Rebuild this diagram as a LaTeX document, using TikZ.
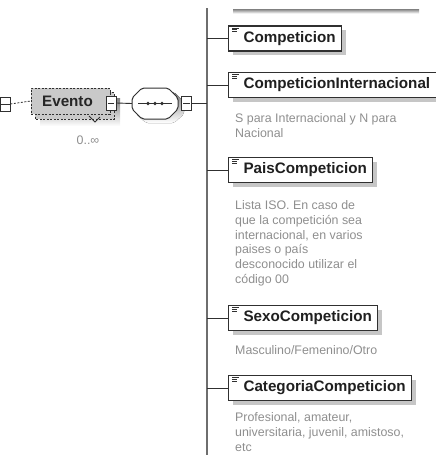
\documentclass[tikz,border=0pt]{standalone}
\usepackage{fontspec}
\setmainfont{Liberation Sans}
\usepackage{tikz}
\usetikzlibrary{calc,shadows}
\definecolor{boxline}{HTML}{303030}
\definecolor{busline}{HTML}{6E6E6E}
\definecolor{shade}{HTML}{C6C6C6}
\definecolor{evfill}{HTML}{C9C9C9}
\definecolor{note}{HTML}{8E8E8E}

\tikzset{
  elem/.style={draw=boxline, line width=1.1pt, fill=white, anchor=west,
    minimum height=25pt, inner ysep=0pt, inner xsep=6pt, text=black!88,
    font=\fontsize{15.2}{18}\selectfont\bfseries,
    drop shadow={shadow xshift=4pt, shadow yshift=-4pt, fill=shade, opacity=1}},
  notetext/.style={anchor=north west, align=left, inner sep=0pt, text=note,
    font=\fontsize{12.4}{14.7}\selectfont},
  minusbox/.style={draw=boxline, line width=0.9pt, fill=white,
    minimum width=10pt, minimum height=14pt, inner sep=0pt},
  link/.style={draw=boxline, line width=0.9pt},
}

\begin{document}
\begin{tikzpicture}[x=1pt,y=-1pt]
\useasboundingbox (0,0) rectangle (436,455);

% bus of the sequence
\coordinate (bus) at (207,0);
\coordinate (bustop) at (207,8);
\coordinate (busbot) at (207,455);
\draw[busline, line width=1.5pt] (bustop) -- (busbot);

% shadow of the element above, cut off
\fill[shade] (233,9) rectangle (419,13.5);

% parent element, cut off at the left
\node[minusbox] (prev) at (5,104) {};
\draw[boxline, line width=0.9pt] (0,104) -- (prev.east);

% Evento (0..oo), stacked and optional
\coordinate (evpos) at (70.5,101);
\fill[shade] ($(evpos)+(-30.5,-3)$) rectangle ($(evpos)+(49.5,25)$);
\draw[boxline, dash pattern=on 2pt off 1.5pt, line width=0.8pt, fill=evfill]
  ($(evpos)+(-35.5,-9)$) rectangle ($(evpos)+(43.5,18)$);
\node[draw=boxline, dash pattern=on 2pt off 1.5pt, line width=0.8pt, fill=evfill,
  minimum width=79pt, minimum height=26pt, inner sep=0pt,
  font=\fontsize{15.2}{18}\selectfont\bfseries, text=black!85] (ev) at (evpos)
  {\hspace*{-6pt}Evento};
\draw[boxline, line width=0.8pt] (89,116) -- (95,122) -- (100,117);
\node[text=note, font=\fontsize{12.4}{14}\selectfont] (evcard) at (88,140) {0..∞};
\draw[boxline, dash pattern=on 2pt off 1.5pt, line width=0.8pt] (prev.east) -- (ev.west);

\node[minusbox] (evminus) at (111,103) {};
\draw[boxline, line width=0.6pt] ($(evminus.west)+(2,0)$) -- ($(evminus.east)+(-2,0)$);

% sequence compositor
\node[minimum width=46pt, minimum height=31pt, inner sep=0pt] (seq) at (155,103.5) {};
\fill[shade, rounded corners=2pt] (146,92) -- (174,92) -- (184,102) -- (184,114)
  -- (174,123) -- (146,123) -- (136,114) -- (136,102) -- cycle;
\draw[boxline, line width=1pt, fill=white, rounded corners=2pt]
  (142,88) -- (168,88) -- (178,98) -- (178,109) -- (168,119) -- (142,119)
  -- (132,109) -- (132,98) -- cycle;
\draw[boxline, line width=0.9pt] (138,103.5) -- (172,103.5);
\foreach \x in {148,155,162}
  \fill[boxline] (\x,103.5) circle (1.9);
\draw[link] (evminus.east) -- (seq.west);

\node[minusbox] (seqminus) at (186.5,103.5) {};
\draw[boxline, line width=0.6pt] ($(seqminus.west)+(2,0)$) -- ($(seqminus.east)+(-2,0)$);
\draw[link] (seqminus.east) -- (bus |- seqminus.east);

% child elements
\foreach \y/\name/\txt in {38.5/comp/Competicion, 85/compint/CompeticionInternacional,
    170/pais/PaisCompeticion, 318/sexo/SexoCompeticion, 388/cat/CategoriaCompeticion}{
  \node[elem] (\name) at (228,\y) {\hspace*{9pt}\txt};
  \draw[boxline, line width=0.6pt]
    ($(\name.north west)+(4,2.5)$) -- ++(7,0)
    ($(\name.north west)+(4,4.3)$) -- ++(5,0)
    ($(\name.north west)+(4,6.1)$) -- ++(5,0);
  \draw[link] (bus |- \name.west) -- (\name.west);
}

% annotations
\node[notetext] (compintnote) at (235,113.5) {S para Internacional y N para\\Nacional};
\node[notetext] (paisnote) at (235,200.5) {Lista ISO. En caso de\\que la competición sea\\
  internacional, en varios\\paises o país\\desconocido utilizar el\\código 00};
\node[notetext] (sexonote) at (235,345.5) {Masculino/Femenino/Otro};
\node[notetext] (catnote) at (235,412.5) {Profesional, amateur,\\universitaria, juvenil, amistoso,\\etc};
\end{tikzpicture}
\end{document}
